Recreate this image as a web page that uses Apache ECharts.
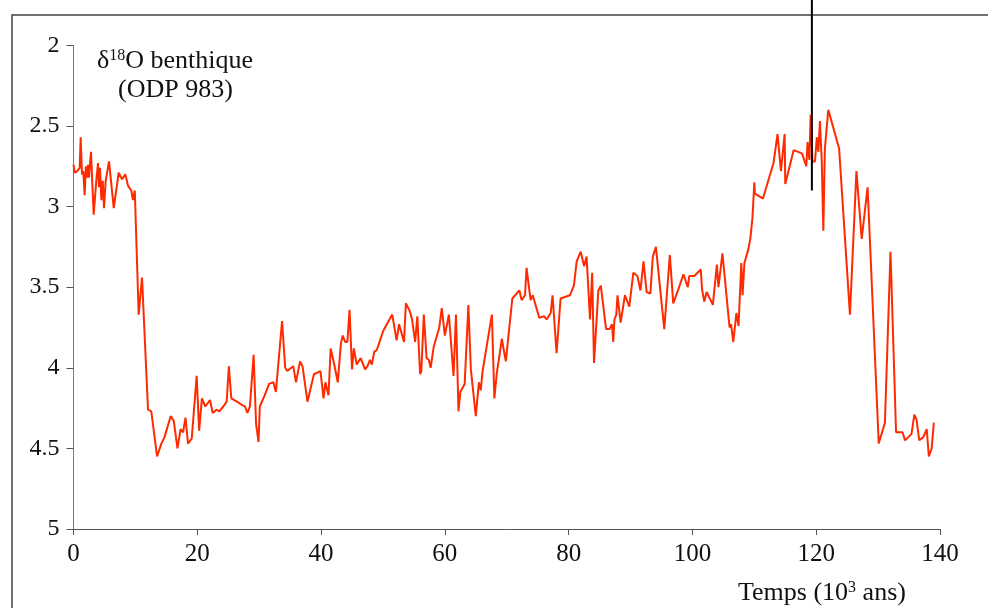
<!DOCTYPE html>
<html>
<head>
<meta charset="utf-8">
<title>d18O benthique ODP 983</title>
<script src="https://cdn.jsdelivr.net/npm/echarts@6/dist/echarts.min.js"></script>
<style>
  html, body { margin: 0; padding: 0; background: #fff; }
  #main { width: 988px; height: 608px; }
</style>
</head>
<body>
<div id="main"></div>
<script>
// temps en milliers d'annees
var ages = [0.0, 0.2, 0.6, 1.0, 1.16, 1.37, 1.58, 1.8, 2.0, 2.23, 2.34, 2.5, 2.67, 2.83, 2.99, 3.26, 3.68, 3.96, 4.12, 4.28,
    4.5, 4.72, 4.93, 5.2, 5.74, 6.5, 7.3, 7.84, 8.38, 8.8, 9.34, 9.6, 9.9, 10.53, 11.07, 12.04, 12.57, 13.5, 14.2, 14.7,
    15.7, 16.2, 16.8, 17.3, 17.7, 18.1, 18.5, 19.1, 19.9, 20.3, 20.75, 21.3, 22.05, 22.5, 23.1, 23.55, 24.2, 24.75, 25.1, 25.5,
    26.4, 27.2, 27.7, 28.1, 28.5, 29.1, 29.5, 29.9, 30.1, 30.9, 31.6, 32.3, 32.7, 33.7, 34.2, 34.55, 35.5, 35.95, 36.6, 37.0,
    37.8, 38.85, 39.9, 40.4, 40.7, 41.2, 41.55, 42.08, 42.4, 42.7, 43.2, 43.5, 43.9, 44.25, 44.6, 45.0, 45.3, 45.75, 46.4, 46.7,
    47.1, 47.5, 47.9, 48.2, 48.6, 49.0, 50.05, 51.5, 52.2, 52.6, 53.4, 53.7, 54.35, 54.7, 55.2, 55.55, 56.0, 56.2, 56.6, 57.05,
    57.4, 57.7, 58.2, 59.1, 59.5, 60.0, 60.65, 61.4, 61.8, 62.2, 62.5, 63.2, 63.8, 64.2, 65.0, 65.5, 65.8, 66.1, 67.6, 68.0,
    68.4, 68.8, 69.2, 69.85, 70.9, 72.05, 72.4, 72.95, 73.2, 73.85, 74.2, 75.25, 76.0, 76.45, 77.1, 77.4, 78.05, 78.7, 80.2, 80.85,
    81.3, 81.55, 81.95, 82.5, 82.9, 83.45, 83.8, 84.1, 84.8, 85.2, 86.05, 86.6, 87.0, 87.2, 87.4, 87.7, 87.9, 88.4, 89.1, 89.8,
    90.45, 91.1, 91.6, 92.1, 92.6, 93.2, 93.6, 94.1, 95.45, 96.35, 96.9, 97.75, 98.55, 99.25, 99.5, 100.3, 101.35, 101.55, 101.9, 102.3,
    103.3, 103.95, 104.2, 104.85, 106.0, 106.25, 106.6, 107.1, 107.45, 107.9, 108.1, 108.4, 109.0, 109.35, 109.7, 110.0, 110.1, 111.4, 113.1, 113.75,
    114.3, 114.9, 115.0, 116.35, 117.7, 118.4, 118.6, 118.9, 119.1, 119.4, 119.8, 120.1, 120.35, 120.6, 120.9, 121.15, 121.4, 121.95, 123.7, 125.45,
    126.5, 127.35, 128.3, 130.1, 131.1, 132.0, 132.9, 133.95, 134.35, 135.4, 135.85, 136.2, 136.65, 137.3, 137.85, 138.2, 138.65, 139.0];
var d18O = [2.74, 2.79, 2.78, 2.76, 2.57, 2.80, 2.78, 2.93, 2.75, 2.82, 2.74, 2.82, 2.73, 2.66, 2.81, 3.05, 2.84, 2.73, 2.88, 2.76,
    2.96, 2.84, 3.01, 2.84, 2.72, 3.01, 2.79, 2.83, 2.80, 2.87, 2.90, 2.96, 2.90, 3.67, 3.44, 4.26, 4.27, 4.55, 4.47, 4.43,
    4.30, 4.33, 4.50, 4.38, 4.40, 4.31, 4.47, 4.44, 4.05, 4.39, 4.19, 4.24, 4.20, 4.28, 4.26, 4.27, 4.24, 4.21, 3.99, 4.19,
    4.21, 4.23, 4.24, 4.28, 4.24, 3.92, 4.35, 4.46, 4.24, 4.17, 4.10, 4.09, 4.15, 3.71, 4.00, 4.02, 3.99, 4.09, 3.96, 3.99,
    4.21, 4.04, 4.02, 4.19, 4.09, 4.17, 3.88, 3.97, 3.97, 4.09, 3.85, 3.80, 3.84, 3.84, 3.64, 4.01, 3.88, 3.98, 3.94, 3.95,
    4.01, 3.99, 3.95, 3.98, 3.90, 3.89, 3.77, 3.67, 3.83, 3.73, 3.84, 3.60, 3.65, 3.70, 3.84, 3.68, 4.04, 4.02, 3.67, 3.94,
    3.95, 4.00, 3.87, 3.75, 3.63, 3.80, 3.67, 4.05, 3.67, 4.27, 4.15, 4.10, 3.61, 4.01, 4.30, 4.09, 4.14, 4.02, 3.67, 4.19,
    4.03, 3.93, 3.82, 3.96, 3.57, 3.52, 3.58, 3.55, 3.38, 3.58, 3.55, 3.69, 3.68, 3.70, 3.66, 3.55, 3.91, 3.57, 3.55, 3.49,
    3.34, 3.34, 3.28, 3.37, 3.31, 3.70, 3.41, 3.97, 3.52, 3.49, 3.76, 3.76, 3.73, 3.84, 3.70, 3.67, 3.55, 3.72, 3.55, 3.62,
    3.41, 3.43, 3.52, 3.34, 3.53, 3.54, 3.31, 3.25, 3.76, 3.30, 3.60, 3.51, 3.42, 3.50, 3.43, 3.43, 3.39, 3.51, 3.59, 3.53,
    3.61, 3.36, 3.50, 3.29, 3.75, 3.73, 3.84, 3.66, 3.74, 3.35, 3.55, 3.35, 3.27, 3.20, 3.07, 2.85, 2.92, 2.95, 2.73, 2.55,
    2.78, 2.55, 2.86, 2.65, 2.67, 2.75, 2.60, 2.71, 2.43, 2.72, 2.72, 2.57, 2.66, 2.47, 2.72, 3.15, 2.64, 2.40, 2.64, 3.67,
    2.78, 3.20, 2.88, 4.47, 4.34, 3.28, 4.40, 4.40, 4.45, 4.41, 4.29, 4.32, 4.45, 4.43, 4.38, 4.55, 4.50, 4.34];
var xTicks = [0, 20, 40, 60, 80, 100, 120, 140];
var yTicks = [2, 2.5, 3, 3.5, 4, 4.5, 5];
// repere vertical vers 120 ka
var repere = [119.3, 2.9];

var serif = '"Liberation Serif", "DejaVu Serif", serif';
var points = [];
for (var i = 0; i < ages.length; i++) {
    points.push([ages[i], d18O[i]]);
}

var myChart = echarts.init(document.getElementById('main'));
var option = {
    animation: false,
    backgroundColor: '#fff',
    grid: {
        left: 73.5,
        right: 48,
        top: 45.4,
        bottom: 79
    },
    xAxis: {
        type: 'value',
        min: xTicks[0],
        max: xTicks[xTicks.length - 1],
        interval: 20,
        splitLine: { show: false },
        axisLine: { lineStyle: { color: '#555', width: 1 } },
        axisTick: { length: 6, lineStyle: { color: '#555' } },
        axisLabel: {
            margin: 13,
            color: '#111',
            fontFamily: serif,
            fontSize: 25
        }
    },
    yAxis: {
        type: 'value',
        inverse: true,
        min: yTicks[0],
        max: yTicks[yTicks.length - 1],
        interval: 0.5,
        splitLine: { show: false },
        axisLine: { show: true, lineStyle: { color: '#777', width: 1 } },
        axisTick: { show: true, length: 7, lineStyle: { color: '#555' } },
        axisLabel: {
            margin: 14,
            color: '#111',
            fontFamily: serif,
            fontSize: 24
        }
    },
    series: [{
        type: 'line',
        data: points,
        symbol: 'none',
        lineStyle: { color: '#ff2a00', width: 2 }
    }]
};
myChart.setOption(option);

var p = myChart.convertToPixel({ gridIndex: 0 }, repere);
var supStyle = { fontSize: 16, fontFamily: serif, fill: '#111', verticalAlign: 'top', padding: [0, 0, 9, 0] };
myChart.setOption({
    graphic: [
        {
            type: 'rect',
            shape: { x: 12, y: 15, width: 1000, height: 700 },
            style: { fill: 'none', stroke: '#444', lineWidth: 1.5 },
            silent: true
        },
        {
            type: 'line',
            shape: { x1: p[0], y1: 0, x2: p[0], y2: p[1] },
            style: { stroke: '#000', lineWidth: 2 },
            z: 10
        },
        {
            type: 'text',
            left: 97,
            top: 48,
            style: {
                text: 'δ{sup|18}O benthique',
                fill: '#111',
                font: '26px ' + serif,
                rich: { sup: supStyle }
            }
        },
        {
            type: 'text',
            left: 118,
            top: 77,
            style: { text: '(ODP 983)', fill: '#111', font: '26px ' + serif }
        },
        {
            type: 'text',
            left: 738,
            top: 580,
            style: {
                text: 'Temps (10{sup|3} ans)',
                fill: '#111',
                font: '26px ' + serif,
                rich: { sup: supStyle }
            }
        }
    ]
});
</script>
</body>
</html>
